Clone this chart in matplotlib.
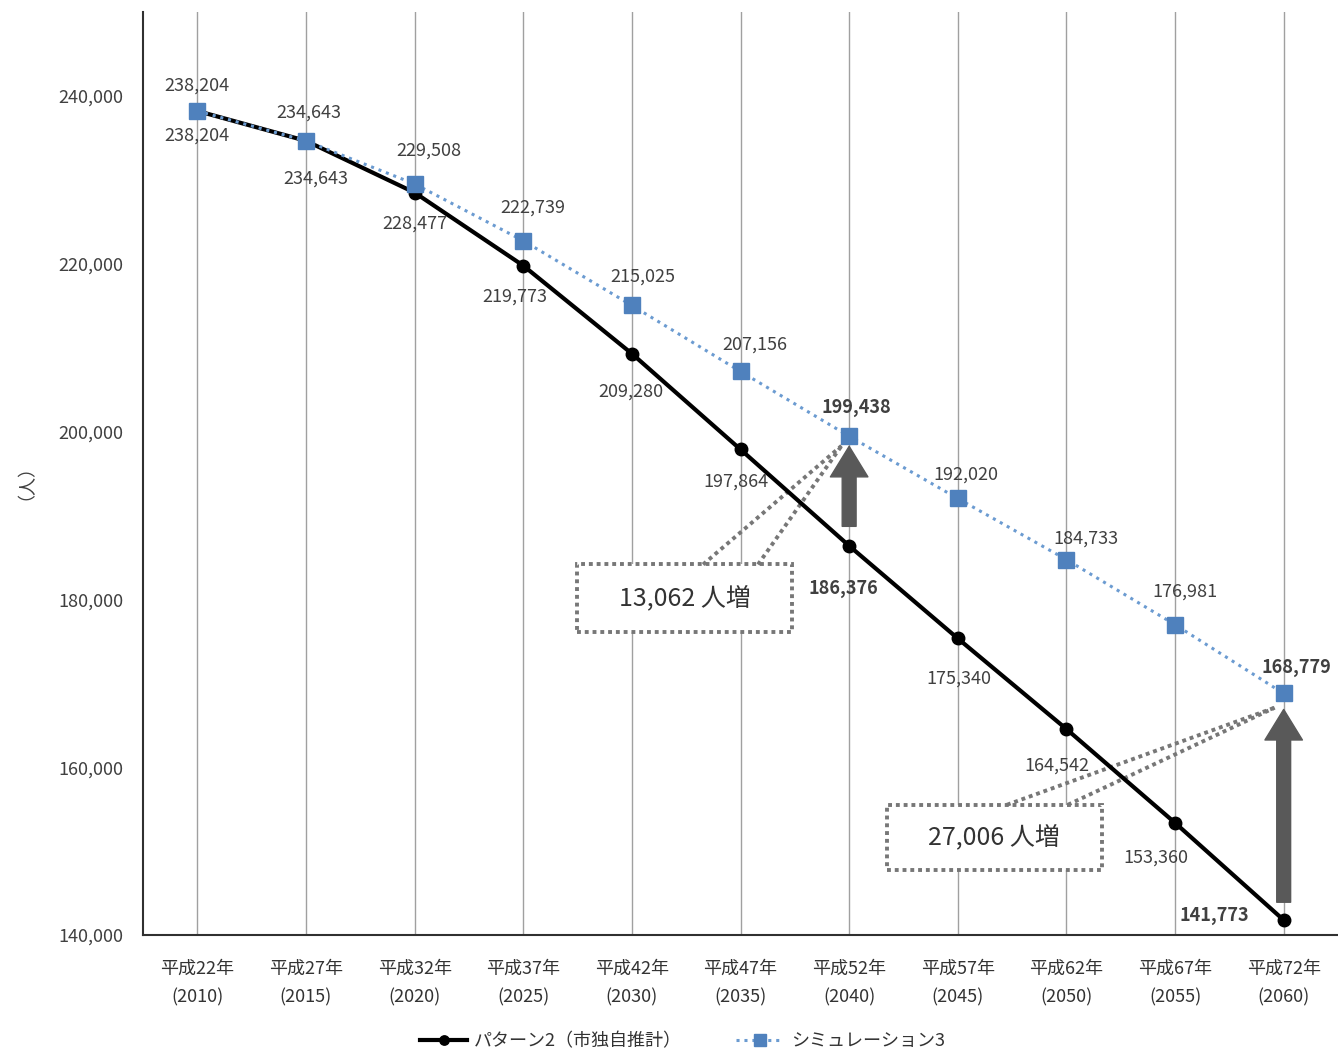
import matplotlib.pyplot as plt
from matplotlib.patches import Rectangle

plt.rcParams['font.family'] = ['Noto Sans CJK JP', 'DejaVu Sans']

years = ['平成22年\n(2010)', '平成27年\n(2015)', '平成32年\n(2020)', '平成37年\n(2025)',
         '平成42年\n(2030)', '平成47年\n(2035)', '平成52年\n(2040)', '平成57年\n(2045)',
         '平成62年\n(2050)', '平成67年\n(2055)', '平成72年\n(2060)']
pattern2 = [238204, 234643, 228477, 219773, 209280, 197864, 186376, 175340, 164542, 153360, 141773]
sim3 = [238204, 234643, 229508, 222739, 215025, 207156, 199438, 192020, 184733, 176981, 168779]
gain_text = ['13,062 人増', '27,006 人増']
gain_idx = [6, 10]

# label offsets (points) for each data label
off_sim = [(0, 18), (2, 20), (10, 24), (7, 24), (8, 21), (10, 19), (5, 21), (6, 17), (14, 15), (7, 24), (9, 19)]
off_pat = [(0, -18), (7, -27), (0, -22), (-6, -22), (-1, -27), (-3, -23), (-4, -31), (1, -29), (-7, -26), (-14, -25), (-50, 3)]
bold_idx = [6, 10]

txt = '#404040'
fig = plt.figure(figsize=(13.38, 10.53), dpi=100)
ax = fig.add_axes([0.1069, 0.1121, 0.8931, 0.8765])
x = list(range(len(years)))

for xi in x:
    ax.axvline(xi, color='#a0a0a0', lw=1, zorder=0)

ax.plot(x, pattern2, color='black', lw=3, marker='o', ms=9, zorder=3,
        label='パターン2（市独自推計）')
ax.plot(x, sim3, color='#6b9bd1', lw=2.2, ls=(0, (1, 1.6)), marker='s', ms=11,
        mfc='#4f81bd', mec='#4f81bd', zorder=4, label='シミュレーション3')

for i in x:
    w = 'bold' if i in bold_idx else 'normal'
    ax.annotate(f'{sim3[i]:,}', (i, sim3[i]), xytext=off_sim[i], textcoords='offset points',
                ha='center', va='center', fontsize=13, color=txt, fontweight=w, zorder=6)
    ax.annotate(f'{pattern2[i]:,}', (i, pattern2[i]), xytext=off_pat[i], textcoords='offset points',
                ha='center', va='center', fontsize=13, color=txt, fontweight=w, zorder=6)

# increase arrows
for i, base in zip(gain_idx, [188700, 143900]):
    tip = sim3[i] - 1200 if i == 6 else sim3[i] - 1900
    ax.annotate('', xy=(i, tip), xytext=(i, base),
                arrowprops=dict(arrowstyle='simple,tail_width=0.5,head_width=1.35,head_length=1.1',
                                mutation_scale=20, color='#595959', shrinkA=0, shrinkB=0),
                zorder=5)

# dotted callouts
boxes = [(3.496, 176160, 1.978, 7995), (6.348, 147760, 1.978, 7756)]
leads = [([4.655, 5.161], 184153, (5.93, 198300)), ([7.452, 8.013], 155513, (9.917, 167088))]
dot = dict(color='#777777', lw=2.8, ls=(0, (1, 1)))
for (bx, by, bw, bh), (starts, sy, end), t in zip(boxes, leads, gain_text):
    ax.add_patch(Rectangle((bx, by), bw, bh, facecolor='white', edgecolor='#777777',
                           lw=2.8, ls=(0, (1, 1)), zorder=2))
    for sx in starts:
        ax.plot([sx, end[0]], [sy, end[1]], zorder=2, **dot)
    ax.text(bx + bw / 2, by + bh / 2, t, ha='center', va='center', fontsize=18,
            color='#333333', zorder=3)

ax.set_xlim(-0.5, 10.5)
ax.set_ylim(140000, 250000)
ax.set_xticks(x)
ax.set_xticklabels(years, fontsize=13, color='#333333', linespacing=1.75)
ax.set_yticks(range(140000, 240001, 20000))
ax.set_yticklabels([f'{v:,}' for v in range(140000, 240001, 20000)], fontsize=13, color=txt)
ax.tick_params(length=0)
ax.tick_params(axis='y', pad=14)
ax.tick_params(axis='x', pad=18)
for s in ['top', 'right']:
    ax.spines[s].set_visible(False)
for s in ['left', 'bottom']:
    ax.spines[s].set_color('#303030')
    ax.spines[s].set_linewidth(1.5)
ax.set_ylabel('（人）', fontsize=13, color=txt, labelpad=24)

fig.legend(loc='center', bbox_to_anchor=(0.51, 0.011), ncol=2, frameon=False,
           fontsize=13, labelcolor='#333333', handlelength=2.6, columnspacing=3,
           handletextpad=0.4, markerscale=0.75)

fig.savefig('out.png', dpi=100)
